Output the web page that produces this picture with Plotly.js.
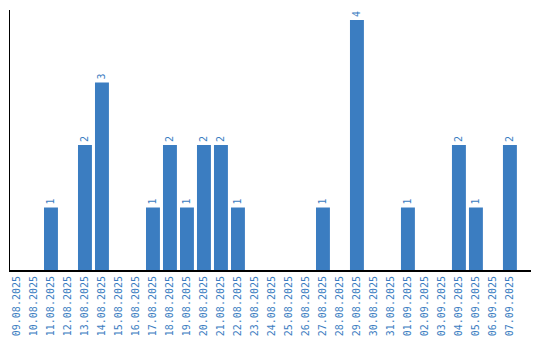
<!DOCTYPE html>
<html><head><meta charset="utf-8">
<script src="https://cdn.plot.ly/plotly-3.0.1.min.js"></script>
<style>body{margin:0;background:#fff}#c{width:540px;height:340px}</style>
</head><body><div id="c"></div>
<script>
const dates = ["09.08.2025","10.08.2025","11.08.2025","12.08.2025","13.08.2025","14.08.2025","15.08.2025","16.08.2025","17.08.2025","18.08.2025","19.08.2025","20.08.2025","21.08.2025","22.08.2025","23.08.2025","24.08.2025","25.08.2025","26.08.2025","27.08.2025","28.08.2025","29.08.2025","30.08.2025","31.08.2025","01.09.2025","02.09.2025","03.09.2025","04.09.2025","05.09.2025","06.09.2025","07.09.2025"];
const counts = [0,0,1,0,2,3,0,0,1,2,1,2,2,1,0,0,0,0,1,0,4,0,0,1,0,0,2,1,0,2];
const labels = counts.map(v => v > 0 ? String(v) : "");
const blue = "#3b7dc1";
const font = {family: "DejaVu Sans Mono, monospace", size: 10, color: blue};
Plotly.newPlot("c", [{
  type: "bar", x: dates, y: counts, marker: {color: blue},
  text: labels, textposition: "outside", textangle: -90, textfont: font,
  cliponaxis: false, hoverinfo: "none"
}], {
  width: 540, height: 340,
  margin: {l: 10, r: 9, t: 10, b: 70},
  paper_bgcolor: "#fff", plot_bgcolor: "#fff",
  bargap: 0.18, showlegend: false,
  font: font,
  xaxis: {type: "category", range: [-0.41, 30.24], tickangle: -90, tickfont: font,
          showline: true, linecolor: "#000", linewidth: 2, showgrid: false, ticks: "", zeroline: false, fixedrange: true},
  yaxis: {range: [0, 4.16], showline: true, linecolor: "#000", linewidth: 1, showgrid: false,
          showticklabels: false, ticks: "", zeroline: false}
}, {displayModeBar: false, staticPlot: true});
</script></body></html>
